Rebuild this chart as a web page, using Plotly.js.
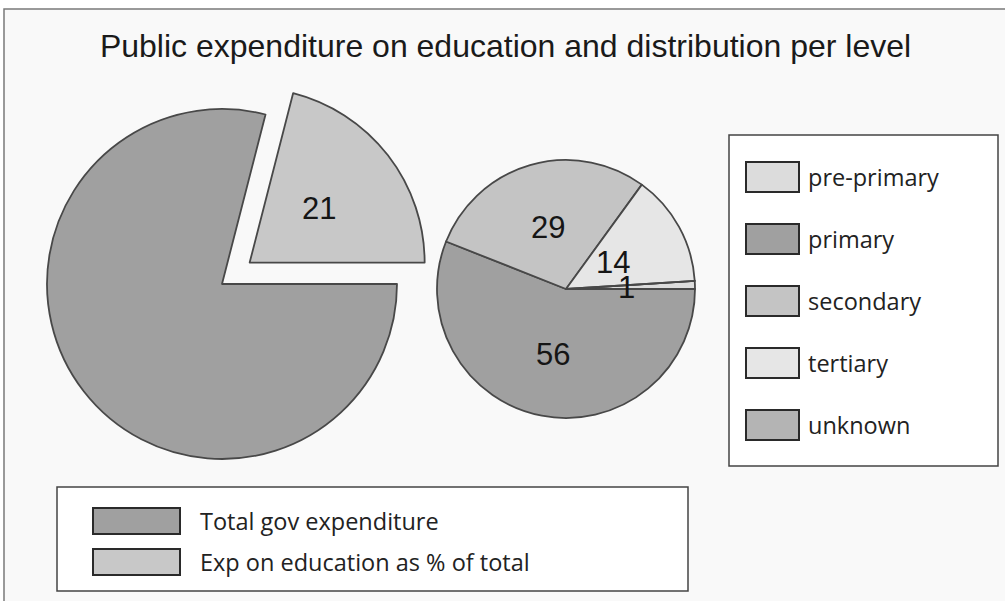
<!DOCTYPE html>
<html><head><meta charset="utf-8">
<script src="https://cdn.plot.ly/plotly-3.0.1.min.js"></script>
<style>html,body{margin:0;padding:0;background:#fff;} #chart{width:1005px;height:601px;}</style>
</head><body><div id="chart"></div>
<script>
// ---- data ----
const titleText = 'Public expenditure on education and distribution per level';
const totalLabels = ['Total gov expenditure', 'Exp on education as % of total'];
const totalValues = [79, 21];
const totalShown = [false, true];
const levelLabels = ['pre-primary', 'primary', 'secondary', 'tertiary', 'unknown'];
const levelValues = [1, 56, 29, 14, 0];

// ---- styles ----
const totalColors = ['#a0a0a0', '#c8c8c8'];
const levelColors = ['#dcdcdc', '#a0a0a0', '#c4c4c4', '#e6e6e6', '#b4b4b4'];
const outline = '#484848';
const W = 1005, H = 601;
const px = x => x / W, py = y => 1 - y / H;
const sum = a => a.reduce((s, v) => s + v, 0);

// geometry in pixels; labelR = radial position of each value label (fraction of radius)
const leftGeo = {cx: 222, cy: 284, r: 175, pull: [0, 0.2], rotation: 90, labelR: [0.5, 0.5]};
const rightGeo = {cx: 566, cy: 289, r: 129, rotation: 90 - 360 * levelValues[0] / sum(levelValues),
  labelR: [0.47, 0.52, 0.5, 0.42, 0.5]};

function domainOf(g) {
  const mp = g.pull ? Math.max(...g.pull) : 0;
  const half = g.r * (1 + mp);
  return {x: [px(g.cx - half), px(g.cx + half)], y: [py(g.cy + half), py(g.cy - half)]};
}

// label positions along bisectors (clockwise from 12 o'clock)
function labelAnns(values, geo, shown) {
  const tot = sum(values);
  let cum = 0;
  const out = [];
  values.forEach((v, i) => {
    const start = geo.rotation + 360 * cum / tot;
    const mid = (start + 180 * v / tot) * Math.PI / 180;
    cum += v;
    if (!v || (shown && !shown[i])) return;
    const pull = geo.pull ? geo.pull[i] : 0;
    const d = geo.r * (geo.labelR[i] + pull);
    out.push({
      x: px(geo.cx + d * Math.sin(mid)), y: py(geo.cy - d * Math.cos(mid)),
      xref: 'paper', yref: 'paper', xanchor: 'center', yanchor: 'middle',
      text: String(v), showarrow: false,
      font: {family: 'Liberation Sans, Arial, sans-serif', size: 31, color: '#151515'}
    });
  });
  return out;
}

const traces = [
  {
    type: 'pie', labels: totalLabels, values: totalValues, sort: false,
    direction: 'clockwise', rotation: leftGeo.rotation, pull: leftGeo.pull,
    marker: {colors: totalColors, line: {color: outline, width: 1.8}},
    textinfo: 'none', hoverinfo: 'label+value', showlegend: false,
    domain: domainOf(leftGeo)
  },
  {
    type: 'pie', labels: levelLabels, values: levelValues, sort: false,
    direction: 'clockwise', rotation: rightGeo.rotation,
    marker: {colors: levelColors, line: {color: outline, width: 1.8}},
    textinfo: 'none', hoverinfo: 'label+value', showlegend: false,
    domain: domainOf(rightGeo)
  }
];

const shapes = [];
const annotations = [];
const legendFont = {family: 'Open Sans, Noto Sans, sans-serif', size: 23.5, color: '#222'};

// outer frame
shapes.push({type: 'rect', xref: 'paper', yref: 'paper', layer: 'below',
  x0: px(4), x1: px(1020), y0: py(620), y1: py(9),
  line: {color: '#7a7a7a', width: 1.5}, fillcolor: '#f9f9f9'});

// right legend
shapes.push({type: 'rect', xref: 'paper', yref: 'paper', layer: 'below',
  x0: px(729), x1: px(998), y0: py(466), y1: py(135),
  line: {color: '#444', width: 1.5}, fillcolor: '#ffffff'});
levelLabels.forEach((lab, i) => {
  const yc = 177 + i * 62;
  shapes.push({type: 'rect', xref: 'paper', yref: 'paper',
    x0: px(746), x1: px(799), y0: py(yc + 15), y1: py(yc - 15),
    line: {color: '#2a2a2a', width: 2}, fillcolor: levelColors[i]});
  annotations.push({x: px(806), y: py(yc), xref: 'paper', yref: 'paper',
    xanchor: 'left', yanchor: 'middle', text: lab, showarrow: false, font: legendFont});
});

// bottom legend
shapes.push({type: 'rect', xref: 'paper', yref: 'paper', layer: 'below',
  x0: px(57), x1: px(688), y0: py(591), y1: py(487),
  line: {color: '#444', width: 1.5}, fillcolor: '#ffffff'});
totalLabels.forEach((lab, i) => {
  const yc = 521 + i * 41;
  shapes.push({type: 'rect', xref: 'paper', yref: 'paper',
    x0: px(93), x1: px(180), y0: py(yc + 13), y1: py(yc - 13),
    line: {color: '#2a2a2a', width: 2}, fillcolor: totalColors[i]});
  annotations.push({x: px(198), y: py(yc), xref: 'paper', yref: 'paper',
    xanchor: 'left', yanchor: 'middle', text: lab, showarrow: false, font: legendFont});
});

annotations.push(...labelAnns(totalValues, leftGeo, totalShown));
annotations.push(...labelAnns(levelValues, rightGeo, null));

const layout = {
  width: W, height: H,
  margin: {l: 0, r: 0, t: 0, b: 0},
  paper_bgcolor: '#ffffff',
  title: {text: titleText, x: 0.503, xanchor: 'center', y: py(46), yanchor: 'middle', yref: 'paper',
    font: {family: 'Liberation Sans, Arial, sans-serif', size: 32, color: '#1a1a1a'}},
  shapes: shapes,
  annotations: annotations,
  showlegend: false
};

Plotly.newPlot('chart', traces, layout, {displayModeBar: false, staticPlot: true});
</script>
</body></html>
